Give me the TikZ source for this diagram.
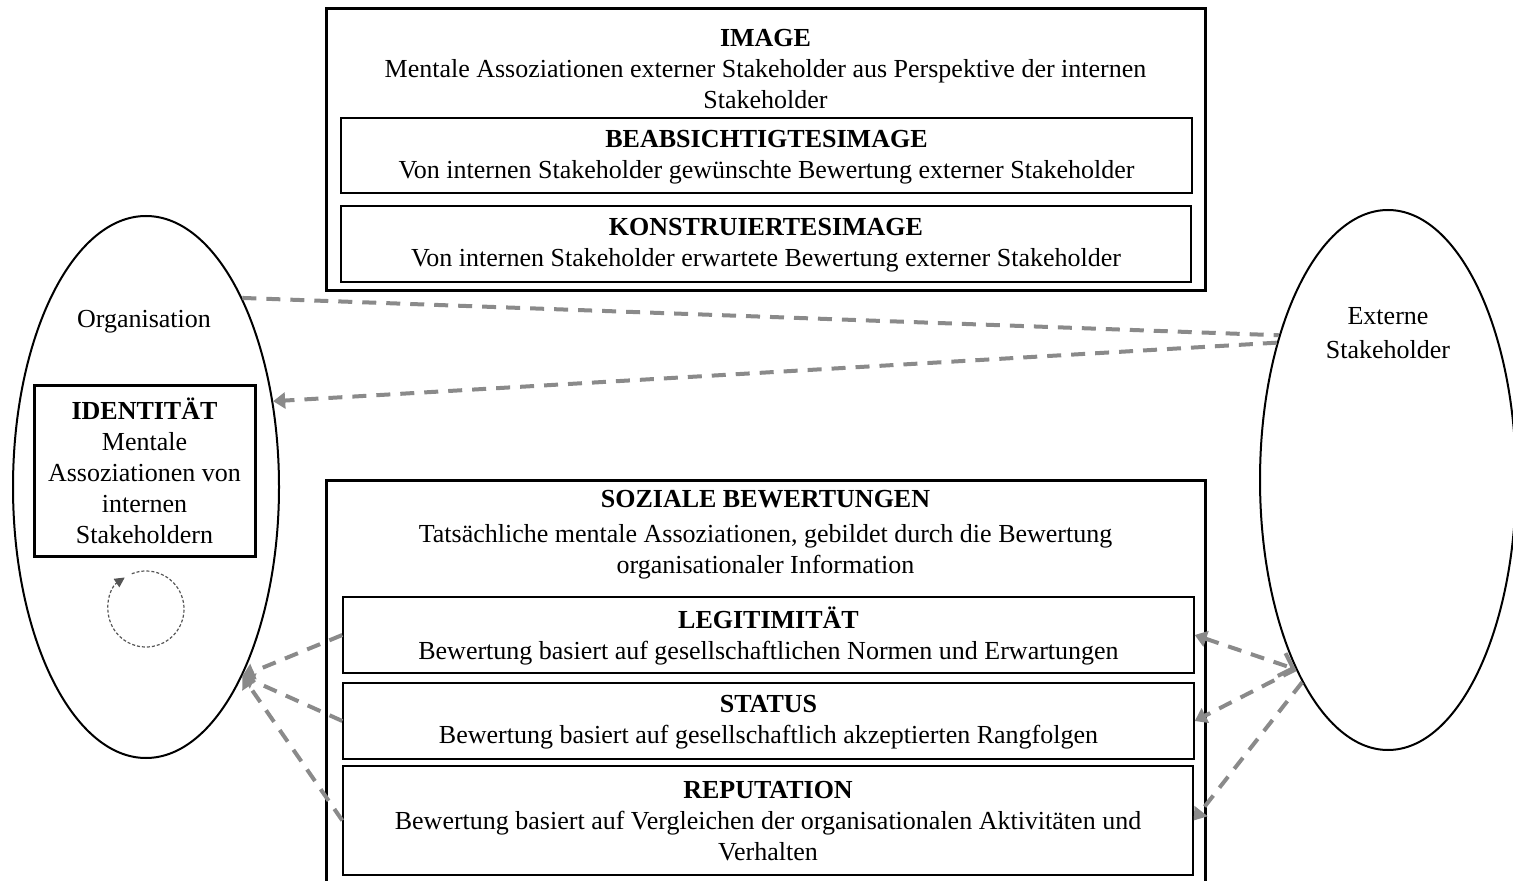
\documentclass[tikz,border=0pt]{standalone}
\usepackage{fontspec}
\setmainfont{Liberation Serif}
\usetikzlibrary{arrows.meta,shapes.geometric}
\definecolor{dgray}{HTML}{8A8A8A}
\definecolor{cgray}{HTML}{555555}
\begin{document}
\begin{tikzpicture}[x=0.5pt,y=-0.5pt,
 txt/.style={align=center,font=\fontsize{13}{15.5}\selectfont,inner sep=0pt},
 outerbox/.style={draw,line width=1.5pt,inner sep=0pt},
 innerbox/.style={draw,line width=0.7pt,inner sep=0pt},
 ell/.style={draw,ellipse,line width=1pt,inner sep=0pt},
 dline/.style={draw=dgray,line width=2pt,dash pattern=on 7pt off 5pt},
 tipT/.style={-{Triangle[length=6pt,width=8pt]}},
]
\useasboundingbox (0,0) rectangle (1513,881);

% ellipses
\node[ell,minimum width=133pt,minimum height=271pt] (org) at (146,487) {};
\node[ell,minimum width=128pt,minimum height=270pt] (ext) at (1388,480) {};
\node[txt] (orgl) at (144,322) {Organisation};
\node[txt,font=\fontsize{13}{17}\selectfont] (extl) at (1388,333) {Externe\\Stakeholder};

% identity box
\node[outerbox,minimum width=110.5pt,minimum height=85pt] (idbox) at (144.5,471) {};
\node[txt] (idtxt) at (144.5,471) {\textbf{IDENTITÄT}\\Mentale\\Assoziationen von\\internen\\Stakeholdern};

% image box
\node[outerbox,minimum width=439.5pt,minimum height=141pt] (imgbox) at (765.5,150) {};
\node[txt] (imgtxt) at (765.5,69) {\textbf{IMAGE}\\Mentale Assoziationen externer Stakeholder aus Perspektive der internen\\Stakeholder};
\node[innerbox,minimum width=425.5pt,minimum height=37.5pt] (beab) at (766.5,155.5) {};
\node[txt] (beabtxt) at (766.5,157) {\textbf{BEABSICHTIGTESIMAGE}\\Von internen Stakeholder gewünschte Bewertung externer Stakeholder};
\node[innerbox,minimum width=425pt,minimum height=38pt] (konst) at (766,244) {};
\node[txt] (konsttxt) at (766,245.5) {\textbf{KONSTRUIERTESIMAGE}\\Von internen Stakeholder erwartete Bewertung externer Stakeholder};

% social evaluations box
\node[outerbox,minimum width=439.5pt,minimum height=206pt] (sozbox) at (765.5,686) {};
\node[txt] (soztxt) at (765.5,535) {\textbf{SOZIALE BEWERTUNGEN}\\[2pt]Tatsächliche mentale Assoziationen, gebildet durch die Bewertung\\organisationaler Information};
\node[innerbox,minimum width=425.5pt,minimum height=38pt] (legit) at (768.5,635) {};
\node[txt] (legittxt) at (768.5,635.5) {\textbf{LEGITIMITÄT}\\Bewertung basiert auf gesellschaftlichen Normen und Erwartungen};
\node[innerbox,minimum width=425.5pt,minimum height=38pt] (status) at (768.5,721) {};
\node[txt] (statustxt) at (768.5,722) {\textbf{STATUS}\\Bewertung basiert auf gesellschaftlich akzeptierten Rangfolgen};
\node[innerbox,minimum width=425pt,minimum height=54.5pt] (repu) at (768,820.5) {};
\node[txt] (reputxt) at (768,821) {\textbf{REPUTATION}\\Bewertung basiert auf Vergleichen der organisationalen Aktivitäten und\\Verhalten};

% upper dashed connectors
\draw[dline] (org.63.8) -- (ext.127.2);
\draw[dline,tipT] (ext.129.3) -- (org.34.3);

% left connectors
\draw[dline,tipT] (legit.west) -- (org.-63.5);
\draw[dline,tipT] (status.west) -- (org.-63.5);
\draw[dline,tipT] (repu.west) -- (org.-63.5);

% right connectors
\draw[dline,{Triangle[length=6pt,width=8pt]}-{Straight Barb[length=6pt,width=12pt,line width=2pt]}] (legit.east) -- (ext.-116.3);
\draw[dline,tipT] (ext.-116.3) -- (status.east);
\draw[dline,tipT] (ext.-113.5) -- (repu.east);

% self loop circle
\coordinate (loopc) at (146,609);
\draw[cgray,line width=0.6pt,dash pattern=on 1.5pt off 1pt,-{Triangle[length=5pt,width=5pt]}] (loopc) ++(112:19pt) arc[start angle=112,end angle=-236,radius=19pt];
\end{tikzpicture}
\end{document}
